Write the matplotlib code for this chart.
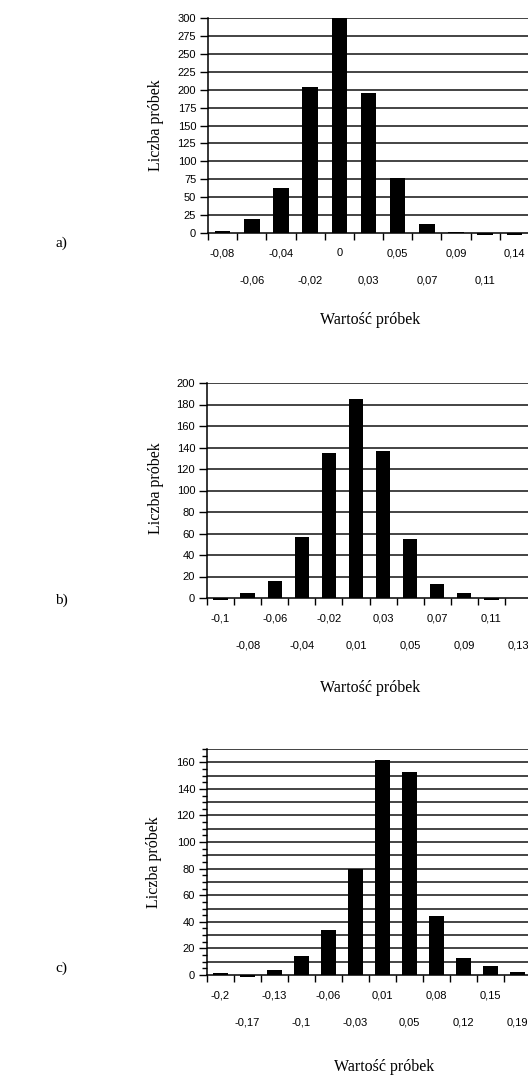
import matplotlib.pyplot as plt
import numpy as np
from matplotlib.ticker import MultipleLocator

W, H = 528, 1077

kat_a = ["-0,08", "-0,06", "-0,04", "-0,02", "0", "0,03", "0,05", "0,07", "0,09", "0,11", "0,14"]
licz_a = [3, 20, 63, 204, 300, 195, 77, 13, 2, -3, -3]

kat_b = ["-0,1", "-0,08", "-0,06", "-0,04", "-0,02", "0,01", "0,03", "0,05", "0,07", "0,09", "0,11", "0,13"]
licz_b = [-1.5, 5, 16, 57, 135, 185, 137, 55, 13, 5, -1.5, 0]

kat_c = ["-0,2", "-0,17", "-0,13", "-0,1", "-0,06", "-0,03", "0,01", "0,05", "0,08", "0,12", "0,15", "0,19"]
licz_c = [1.5, -1.5, 3.5, 14.5, 33.5, 80, 162, 153, 44.5, 12.5, 6.5, 2.5]

serif = "Liberation Serif"
sans = "Liberation Sans"


def osie(lewo, gora, prawo, dol):
    return fig.add_axes([lewo / W, 1 - dol / H, (prawo - lewo) / W, (dol - gora) / H])


def rysuj(ax, kategorie, wartosci, ymax, krok_siatki, krok_opisu, krok_drobny=None):
    n = len(kategorie)
    x = np.arange(n)
    ax.bar(x, wartosci, width=0.53, color="black", clip_on=False, zorder=3)
    ax.set_xlim(-0.5, n - 0.5)
    ax.set_ylim(0, ymax)
    for y in np.arange(krok_siatki, ymax + 0.01, krok_siatki):
        ax.axhline(y, color="#111111", lw=1.1, zorder=1)
    for s in ["top", "right"]:
        ax.spines[s].set_visible(False)
    ax.spines["left"].set_linewidth(1.1)
    ax.spines["bottom"].set_linewidth(1.1)
    ax.spines["bottom"].set_zorder(4)
    ax.yaxis.set_major_locator(MultipleLocator(krok_opisu))
    if krok_drobny:
        ax.yaxis.set_minor_locator(MultipleLocator(krok_drobny))
        ax.tick_params(axis="y", which="minor", length=3.5, width=1, direction="out")
    ax.tick_params(axis="y", which="major", length=6, width=1, pad=2.5,
                   labelsize=8, direction="out")
    ax.set_xticks(np.arange(n + 1) - 0.5)
    ax.set_xticklabels([])
    ax.tick_params(axis="x", which="major", length=5, width=1, direction="out")
    for lab in ax.get_yticklabels():
        lab.set_family(sans)
    for i, k in enumerate(kategorie):
        dy = -14.5 if i % 2 == 0 else -34
        ax.annotate(k, xy=(i, 0), xycoords="data", xytext=(0, dy),
                    textcoords="offset points", ha="center", va="center",
                    fontsize=8, family=sans, annotation_clip=False)


fig = plt.figure(figsize=(W / 100, H / 100), dpi=100)

ax_a = osie(208, 18, 529, 233)
rysuj(ax_a, kat_a, licz_a, 300, 25, 25)
ax_b = osie(207, 383, 532, 598)
rysuj(ax_b, kat_b, licz_b, 200, 20, 20)
ax_c = osie(207, 749, 531, 975)
rysuj(ax_c, kat_c, licz_c, 170, 10, 20, 5)

for (x, y) in [(156, 125), (156, 488), (154, 862)]:
    fig.text(x / W, 1 - y / H, "Liczba próbek", rotation=90, ha="center", va="center",
             fontsize=11.5, family=serif)
for (x, y) in [(370, 320), (370, 688), (384, 1067)]:
    fig.text(x / W, 1 - y / H, "Wartość próbek", ha="center", va="center",
             fontsize=11.5, family=serif)
for (x, y, t) in [(61, 243, "a)"), (61, 600, "b)"), (61, 968, "c)")]:
    fig.text(x / W, 1 - y / H, t, ha="center", va="center", fontsize=11, family=serif)

fig.savefig("out.png", dpi=100)
